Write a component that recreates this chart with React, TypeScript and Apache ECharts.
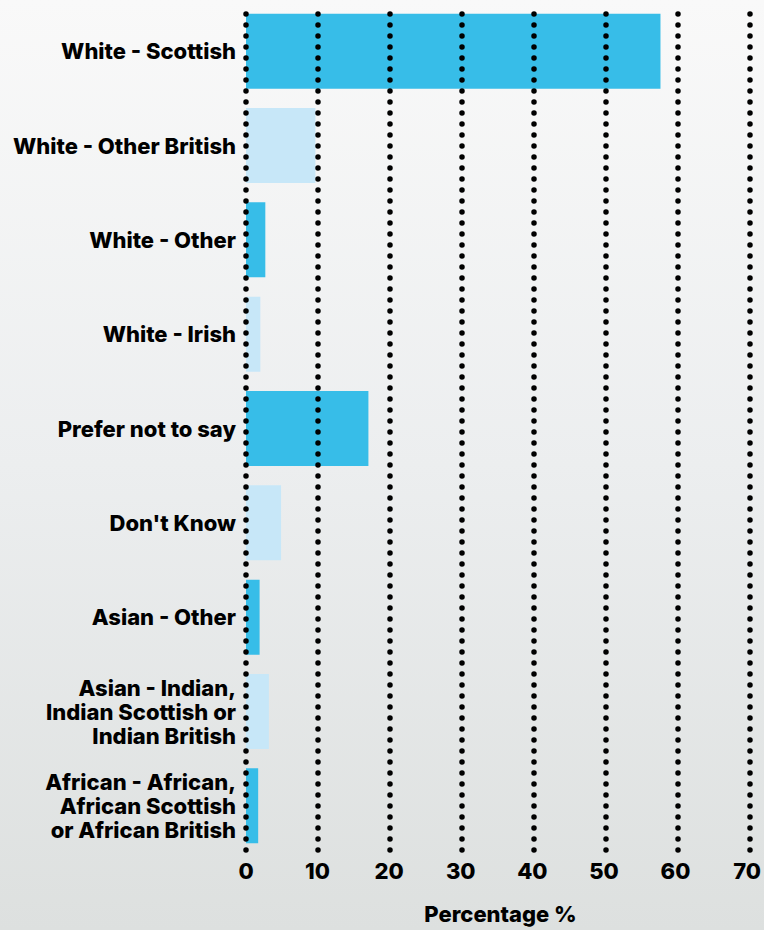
import React, { useEffect, useRef } from "react";
import * as echarts from "echarts";

const categories = [
  "White - Scottish",
  "White - Other British",
  "White - Other",
  "White - Irish",
  "Prefer not to say",
  "Don't Know",
  "Asian - Other",
  "Asian - Indian,\nIndian Scottish or\nIndian British",
  "African - African,\nAfrican Scottish\nor African British",
];
const values = [57.9, 9.7, 2.7, 2.0, 17.1, 4.9, 1.9, 3.2, 1.7];
const barColors = ["#37bde8", "#c7e7f8"];
const xMin = 0;
const xMax = 70;
const xInterval = 10;
const axisTitle = "Percentage %";

const FONT = "Inter, 'Noto Sans', sans-serif";

export default function App() {
  const ref = useRef<HTMLDivElement>(null);
  useEffect(() => {
    document.body.style.margin = "0";
    const chart = echarts.init(ref.current!, null, { renderer: "svg" });
    chart.setOption({
      animation: false,
      backgroundColor: {
        type: "linear",
        x: 0,
        y: 0,
        x2: 0,
        y2: 1,
        colorStops: [
          { offset: 0, color: "#f9f9f9" },
          { offset: 0.5, color: "#eceeef" },
          { offset: 1, color: "#dde0df" },
        ],
      },
      grid: [
        { left: 246, right: 14, top: 4, bottom: 65 },
        { left: 246, right: 14, top: 14, bottom: 78 },
      ],
      xAxis: [
        {
          type: "value",
          gridIndex: 0,
          min: xMin,
          max: xMax,
          interval: xInterval,
          axisLine: { show: false },
          axisTick: { show: false },
          splitLine: { show: false },
          axisLabel: {
            color: "#000",
            fontFamily: FONT,
            fontWeight: 800,
            fontSize: 22,
            margin: 7,
          },
          name: axisTitle,
          nameLocation: "middle",
          nameGap: 50,
          nameTextStyle: {
            color: "#000",
            fontFamily: FONT,
            fontWeight: 800,
            fontSize: 22,
            padding: [0, 0, 0, 8],
          },
        },
        {
          type: "value",
          gridIndex: 1,
          min: xMin,
          max: xMax,
          interval: xInterval,
          z: 10,
          axisLine: { show: false },
          axisTick: { show: false },
          axisLabel: { show: false },
          splitLine: {
            show: true,
            lineStyle: { color: "#000", width: 5.5, type: [0, 11], cap: "round" },
          },
        },
      ],
      yAxis: [
        {
          type: "category",
          gridIndex: 0,
          data: categories,
          inverse: true,
          axisLine: { show: false },
          axisTick: { show: false },
          splitLine: { show: false },
          axisLabel: {
            color: "#000",
            fontFamily: FONT,
            fontWeight: 800,
            fontSize: 22,
            lineHeight: 24,
            margin: 10,
            align: "right",
          },
        },
        {
          type: "category",
          gridIndex: 1,
          data: categories,
          show: false,
        },
      ],
      series: [
        {
          type: "bar",
          xAxisIndex: 0,
          yAxisIndex: 0,
          barCategoryGap: "20.5%",
          data: values.map((v, i) => ({
            value: v,
            itemStyle: { color: barColors[i % 2] },
          })),
        },
      ],
    });
    return () => chart.dispose();
  }, []);
  return <div ref={ref} style={{ width: 764, height: 930 }} />;
}
